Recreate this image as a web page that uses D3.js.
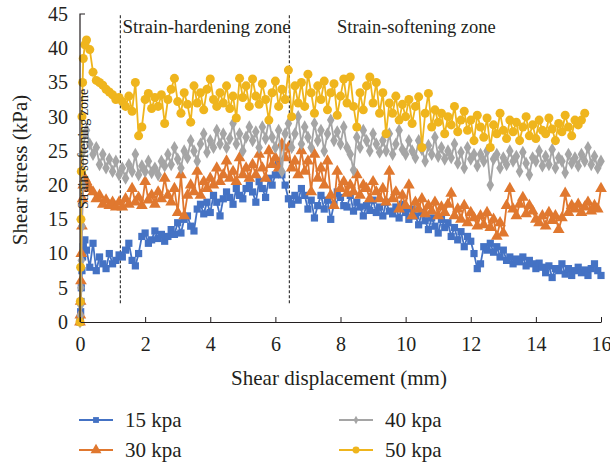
<!DOCTYPE html>
<html>
<head>
<meta charset="utf-8">
<script src="https://cdn.jsdelivr.net/npm/d3@7"></script>
<style>
  body { margin: 0; background: #fff; }
  text { font-family: "Liberation Serif", "Times New Roman", serif; fill: #231f20; }
</style>
</head>
<body>
<div id="chart"></div>
<script>
// shear displacement (mm), shared by all four curves
const displacement = [0,0.01,0.02,0.03,0.04,0.06,0.08,0.1,0.15,0.2,
  0.3,0.4,0.5,0.6,0.7,0.8,0.9,1.0,1.1,1.2,
  1.3,1.4,1.5,1.6,1.7,1.8,1.9,2.0,2.1,2.2,
  2.3,2.4,2.5,2.6,2.7,2.8,2.9,3.0,3.1,3.2,
  3.3,3.4,3.5,3.6,3.7,3.8,3.9,4.0,4.1,4.2,
  4.3,4.4,4.5,4.6,4.7,4.8,4.9,5.0,5.1,5.2,
  5.3,5.4,5.5,5.6,5.7,5.8,5.9,6.0,6.1,6.2,
  6.3,6.4,6.5,6.6,6.7,6.8,6.9,7.0,7.1,7.2,
  7.3,7.4,7.5,7.6,7.7,7.8,7.9,8.0,8.1,8.2,
  8.3,8.4,8.5,8.6,8.7,8.8,8.9,9.0,9.1,9.2,
  9.3,9.4,9.5,9.6,9.7,9.8,9.9,10.0,10.1,10.2,
  10.3,10.4,10.5,10.6,10.7,10.8,10.9,11.0,11.1,11.2,
  11.3,11.4,11.5,11.6,11.7,11.8,11.9,12.0,12.1,12.2,
  12.3,12.4,12.5,12.6,12.7,12.8,12.9,13.0,13.1,13.2,
  13.3,13.4,13.5,13.6,13.7,13.8,13.9,14.0,14.1,14.2,
  14.3,14.4,14.5,14.6,14.7,14.8,14.9,15.0,15.1,15.2,
  15.3,15.4,15.5,15.6,15.7,15.8,15.9,16.0];

// shear stress (kPa)
const stress15 = [0,0.5,1.5,3,5,7.5,9.5,11,12,10.5,
  8,11.5,7.5,9.5,8.5,7.8,10,8.5,9,9.8,
  9.5,10.5,11.5,9,8.2,10,12.5,13,11.5,12,
  13.3,12.2,12.8,11.8,12.5,13.5,12.8,14.5,13,15,
  15.5,14,13.3,16.5,17.2,15.8,17.5,16,18.5,17.5,
  15.5,18,19,18.2,17.2,19.5,18.5,18,19.5,20,
  19,17.5,20.5,19.5,18.2,21,20,21.5,23,21.5,
  20,18,17.2,18.5,17.8,19.5,18.5,16.5,17.8,15.2,
  17,18.5,16.5,17.8,15,17.2,19,18.2,17,16.8,
  18.5,16.2,17.5,16.8,15.5,17,16.3,17.8,16,16.8,
  15.5,17.5,16.2,15.8,16.8,15.2,17.2,16,15,16.5,
  15.5,14.2,16,14.8,13.5,15.2,14,13,15,13.8,
  14.5,12.5,13.8,12,13.2,11,12.5,11.8,10,7.8,
  8.5,11,10.5,11.5,10.2,11,9.5,10.5,9,9.5,
  8.5,9.2,8.8,9.5,8.2,9,8.5,7.8,8.6,8,
  7.2,8.2,6.5,7.8,7.5,8.5,7,7.8,6.8,7.5,
  8,7.2,7.6,6.8,7.8,8.5,7.5,6.8];
const stress30 = [0,1,3,6,10,14,18,20,21,20.5,
  19.5,19,18,18.5,17.2,17.8,17,17.5,16.8,17.5,
  16.8,18,17.2,19.5,17.5,18.2,17,20.5,17.8,18.5,
  17.2,19,18,21,18.5,17.5,19.5,16,21.5,15.5,
  18.5,20,19,22,18.5,20.5,19.5,21,20,22.5,
  20.5,21.5,23.5,21,22,20.5,24,21.5,22.5,21,
  23,21.5,24.5,22.5,21,25,23,24,22.5,26,
  24,25.5,22.5,23.5,21.5,25,22,23.5,19,24.5,
  21,22.5,20,23.5,18.5,17,22,19.5,20.5,18.8,
  20,19,21.5,18.5,20,19.5,18,20.5,19,18,
  19.5,17.5,22,18,19,16.5,18.5,17,20,15.5,
  17.5,16.5,18,15.8,17,16.2,17.5,15.5,16.8,16,
  17.2,18.8,15.5,16.5,15,17,14.5,16,15.2,14,
  15.5,14.2,16,13.8,15,12.5,14.5,13,17,19.5,
  16.5,15.5,17.2,18.2,15.8,17,16.2,15,14.5,15.5,
  14,16,14.8,15.5,13.5,15.2,18.8,16,17,16.5,
  17.2,16,16.8,17.5,16.2,17,16.5,19.5];
const stress40 = [0,1,2.5,5,9,14,20,25,27.5,28,
  26,24.5,25.5,23,24.5,22.5,23.8,22,23.5,21.5,
  22.5,21,23,22,24.5,21.5,22.8,22,23.5,21.8,
  22.5,21.5,23.5,22.8,24.5,23,25.5,23.8,22.5,25,
  24,26.5,25,23.5,26,27.5,24.8,26.5,25.5,28,
  26,27.5,25.5,26.8,29,26,27.5,25,27,28.5,
  26.5,27.8,25.5,28.5,26.8,29.5,27,25.5,28,22,
  27.5,29,25.5,27.5,30,26,28.5,27,25.5,29,
  26.5,28,25,27.5,29.5,26.5,27.8,26,28.5,25.5,
  24.5,22.2,27,25.5,28,26.5,25,27.5,26,24.8,
  26.5,25,27.5,24.5,26,28,25.2,24.5,26.5,25,
  24,26.5,25.2,23.5,25.8,24.5,27,24.2,25.5,23.8,
  25,24,26,23.2,24.8,22.5,25.5,23.8,24.5,22.8,
  24.5,23.5,25,20,23.8,24.5,22.5,24,23,25,
  23.5,24.2,22,24.8,23.2,21.5,24,23.5,25,22.8,
  24.2,23,25.2,22.5,24,23.5,21.8,24.5,23.2,24,
  22.8,24.5,23.5,25.5,23,24.2,22.5,23.5];
const stress50 = [0,3,8,15,22,30,35,38.5,40.5,41.2,
  39.8,36.5,35.3,35,34.6,34,33.6,33.2,32.5,32.8,
  32.2,31.5,33,30.8,35,27.2,28.5,32.5,33.4,31.2,
  32.8,31.5,33.2,29,32.5,34,35.6,32.2,30.5,33.5,
  31.8,29.2,34.5,32,33.5,31,34,35.5,32.5,31.5,
  33.5,32,34.5,31.2,33,29.8,35.6,32.8,34.5,31.5,
  35.5,33,31.8,34.8,32.5,29.5,33.5,35.2,31.5,34,
  32.5,36.8,30,34.5,32,35,31.5,36.2,33.5,30.5,
  34.5,32.5,35.2,31,33.5,34.8,30.2,33,35.5,32,
  35.8,31.5,28.5,33.5,31,34.5,35.8,32,35,30.5,
  33.5,27.5,32,30.5,33,29.5,31.8,30,32.5,29,
  31.5,32.9,25.5,30.5,33.4,28.5,31,29.2,30.5,27.5,
  30,28.8,31.5,27.8,29.5,30.8,28,29.5,26.5,30.2,
  28.5,27,29.8,25.5,28.8,27.5,30.5,28,26.8,29.5,
  27.8,29.2,26.5,28.5,30,27.2,28.8,26.8,29.5,28,
  27.5,29.8,28.2,26.5,29,27.8,30.2,28.5,27.2,29.5,
  28.8,29.5,30.5];

const seriesNames = ["15 kpa", "30 kpa", "40 kpa", "50 kpa"];
const seriesColors = ["#4472c4", "#e0782f", "#a5a5a5", "#efb51d"];
const xTicks = [0, 2, 4, 6, 8, 10, 12, 14, 16];
const yTicks = [0, 5, 10, 15, 20, 25, 30, 35, 40, 45];
const zoneBounds = [1.24, 6.43];

const width = 610, height = 464;
const serif = "'Liberation Serif', 'Times New Roman', serif";

const svg = d3.select("#chart").append("svg")
  .attr("width", width)
  .attr("height", height);

const xScale = d3.scaleLinear().domain([0, 16]).range([80, 601]);
const yScale = d3.scaleLinear().domain([0, 45]).range([322, 14]);

const allSeries = [stress15, stress30, stress40, stress50].map((vals, i) => ({
  name: seriesNames[i],
  color: seriesColors[i],
  values: vals.map((v, j) => ({x: displacement[j], y: v}))
}));

const symbols = [
  d3.symbol().type(d3.symbolSquare).size(52),
  d3.symbol().type(d3.symbolTriangle).size(60),
  d3.symbol().type(d3.symbolDiamond).size(50),
  d3.symbol().type(d3.symbolCircle).size(64)
];
const legendSymbols = [
  d3.symbol().type(d3.symbolSquare).size(34),
  d3.symbol().type(d3.symbolTriangle).size(52),
  d3.symbol().type(d3.symbolDiamond).size(20),
  d3.symbol().type(d3.symbolCircle).size(38)
];

// zone dividers
svg.selectAll(".zone")
  .data(zoneBounds)
  .enter().append("line")
  .attr("x1", d => xScale(d)).attr("x2", d => xScale(d))
  .attr("y1", yScale(44.8)).attr("y2", yScale(2.5))
  .attr("stroke", "#3a3a3a")
  .attr("stroke-width", 1.2)
  .attr("stroke-dasharray", "3,2");

// curves
const line = d3.line().x(d => xScale(d.x)).y(d => yScale(d.y));

allSeries.forEach((s, i) => {
  const g = svg.append("g");
  g.append("path")
    .datum(s.values)
    .attr("fill", "none")
    .attr("stroke", s.color)
    .attr("stroke-width", 1.8)
    .attr("d", line);
  g.selectAll("path.pt")
    .data(s.values)
    .enter().append("path")
    .attr("class", "pt")
    .attr("transform", d => `translate(${xScale(d.x)},${yScale(d.y)})`)
    .attr("d", symbols[i])
    .attr("fill", s.color);
});

// axes
const xAxis = d3.axisBottom(xScale)
  .tickValues(xTicks)
  .tickSize(-5)
  .tickSizeOuter(0)
  .tickPadding(15);
const gx = svg.append("g")
  .attr("transform", `translate(0,${yScale(0)})`)
  .call(xAxis)
  .attr("font-family", serif);
gx.select(".domain").attr("stroke", "#231f20").attr("stroke-width", 1.2);
gx.selectAll(".tick line").attr("stroke", "#231f20");
gx.selectAll(".tick text")
  .style("font-family", serif)
  .style("font-size", "20px")
  .attr("fill", "#231f20");

const yAxis = d3.axisLeft(yScale)
  .tickValues(yTicks)
  .tickSize(0)
  .tickPadding(12);
const gy = svg.append("g")
  .attr("transform", `translate(${xScale(0)},0)`)
  .call(yAxis)
  .attr("font-family", serif);
gy.select(".domain").remove();
gy.selectAll(".tick text")
  .style("font-family", serif)
  .style("font-size", "20px")
  .attr("fill", "#231f20");
svg.append("path")
  .attr("d", `M${xScale(0) + 5},${yScale(45)}H${xScale(0)}V${yScale(0)}`)
  .attr("fill", "none")
  .attr("stroke", "#231f20")
  .attr("stroke-width", 1.2);

// axis titles
svg.append("text")
  .attr("x", 339)
  .attr("y", 385)
  .attr("text-anchor", "middle")
  .style("font-size", "21px")
  .text("Shear displacement (mm)");

svg.append("text")
  .attr("transform", `translate(27,170) rotate(-90)`)
  .attr("text-anchor", "middle")
  .style("font-size", "21px")
  .text("Shear stress (kPa)");

// zone labels
svg.append("text")
  .attr("x", xScale(zoneBounds[0]) + 2)
  .attr("y", 33)
  .style("font-size", "19px")
  .text("Strain-hardening zone");

svg.append("text")
  .attr("x", 337)
  .attr("y", 33)
  .style("font-size", "18.5px")
  .text("Strain-softening zone");

svg.append("text")
  .attr("transform", `translate(88,${yScale(25.3)}) rotate(-90)`)
  .attr("text-anchor", "middle")
  .style("font-size", "14px")
  .text("Strain-softening zone");

// legend
const legendPos = [[79, 420], [79, 450], [339, 420], [339, 450]];
const legend = svg.selectAll(".legend")
  .data(allSeries)
  .enter().append("g")
  .attr("transform", (d, i) => `translate(${legendPos[i][0]},${legendPos[i][1]})`);
legend.append("line")
  .attr("x1", 0).attr("x2", 34)
  .attr("stroke", d => d.color)
  .attr("stroke-width", 2);
legend.append("path")
  .attr("transform", "translate(17,0)")
  .attr("d", (d, i) => legendSymbols[i]())
  .attr("fill", d => d.color);
legend.append("text")
  .attr("x", 46)
  .attr("y", 7)
  .style("font-family", serif)
  .style("font-size", "21px")
  .text(d => d.name);
</script>
</body>
</html>
